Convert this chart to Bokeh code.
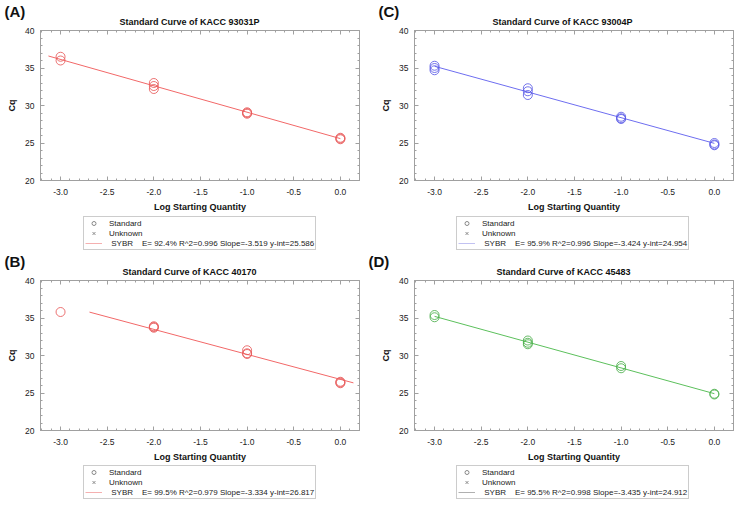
from bokeh.plotting import figure
from bokeh.models import (Range1d, LinearAxis, SingleIntervalTicker, PrintfTickFormatter,
                          Legend, LegendItem, Title)
from bokeh.layouts import row, column
from bokeh.embed import file_html
from bokeh.resources import INLINE

FONT = "Liberation Sans"
GRAY = "#a0a0a0"

# ---------------- data ----------------
panel_tags = ["(A)", "(B)", "(C)", "(D)"]
titles = ["Standard Curve of KACC 93031P", "Standard Curve of KACC 40170",
          "Standard Curve of KACC 93004P", "Standard Curve of KACC 45483"]

a_log = [-3, -3, -2, -2, -2, -1, -1, -1, 0, 0, 0]
a_cq = [36.5, 36.0, 33.0, 32.6, 32.2, 29.1, 29.0, 28.9, 25.7, 25.6, 25.5]
b_log = [-3, -2, -2, -2, -1, -1, -1, 0, 0, 0]
b_cq = [35.8, 33.9, 33.8, 33.7, 30.7, 30.3, 30.2, 26.5, 26.4, 26.3]
c_log = [-3, -3, -3, -2, -2, -2, -1, -1, -1, 0, 0, 0]
c_cq = [35.3, 35.0, 34.7, 32.3, 31.9, 31.4, 28.5, 28.3, 28.2, 25.0, 24.8, 24.7]
d_log = [-3, -3, -2, -2, -2, -1, -1, 0, 0]
d_cq = [35.4, 35.1, 32.0, 31.7, 31.5, 28.6, 28.3, 24.9, 24.8]

efficiency = ["92.4%", "99.5%", "95.9%", "95.5%"]
r_squared = ["0.996", "0.979", "0.996", "0.998"]
slopes = [-3.519, -3.334, -3.424, -3.435]
intercepts = [25.586, 26.817, 24.954, 24.912]
fit_start = [-3.13, -2.69, -3.0, -3.0]
fit_end = [0.0, 0.14, 0.0, 0.0]

point_colors = ["#e85a5a", "#e85a5a", "#5a5ae6", "#4caf4c"]
line_colors = ["#f26868", "#f26868", "#6e6ef0", "#5cc05c"]
legend_line_colors = ["#f5b0b0", "#f5b0b0", "#c2c2f2", "#b0b0b0"]

# width, height, border_left, border_top, border_bottom, border_right, legend height
geom = [(368, 214, 40, 30, 34, 9, 37),
        (368, 213, 40, 29, 34, 9, 36),
        (374, 214, 46, 30, 34, 9, 37),
        (374, 213, 46, 29, 34, 9, 36)]
title_offsets = [79, 82, 78, 82]
tag_offsets = [-36, -36, -36, -46]
legend_left = [43, 43, 42, 42]


def style_ticks(ax):
    ax.axis_line_color = GRAY
    ax.major_tick_line_color = GRAY
    ax.minor_tick_line_color = GRAY
    ax.major_tick_in = 4
    ax.major_tick_out = 0
    ax.minor_tick_in = 2
    ax.minor_tick_out = 0


def make_title(text, offset, size, standoff):
    t = Title(text=text, align="left", offset=offset, text_font=FONT,
              text_font_size=size, text_font_style="bold", text_color="#111111",
              standoff=0)
    try:
        t.standoff = standoff
    except Exception:
        pass
    return t


xs_all = [a_log, b_log, c_log, d_log]
ys_all = [a_cq, b_cq, c_cq, d_cq]


def make_panel(i):
    w, h, bl, bt, bb, br, lh = geom[i]
    p = figure(width=w, height=h, output_backend="svg", toolbar_location=None,
               x_range=Range1d(-3.215, 0.205), y_range=Range1d(20, 40),
               min_border_left=bl, min_border_top=bt, min_border_bottom=bb,
               min_border_right=br, x_axis_type=None, y_axis_type=None,
               title_location=None)
    p.grid.visible = False
    p.outline_line_color = GRAY
    p.background_fill_color = "white"
    p.border_fill_color = "white"

    xt = SingleIntervalTicker(interval=0.5, num_minor_ticks=5)
    yt = SingleIntervalTicker(interval=5, num_minor_ticks=5)

    xax = LinearAxis(ticker=xt, formatter=PrintfTickFormatter(format="%.1f"),
                     axis_label="Log Starting Quantity")
    yax = LinearAxis(ticker=yt, axis_label="Cq")
    for ax in (xax, yax):
        style_ticks(ax)
        ax.major_label_text_font = FONT
        ax.major_label_text_font_size = "8.5px"
        ax.major_label_text_color = "#222222"
        ax.axis_label_text_font = FONT
        ax.axis_label_text_font_size = "9px"
        ax.axis_label_text_font_style = "bold"
        ax.axis_label_text_color = "#111111"
    xax.major_label_standoff = 8
    xax.axis_label_standoff = 4
    yax.major_label_standoff = 6
    yax.axis_label_standoff = 5
    p.add_layout(xax, "below")
    p.add_layout(yax, "left")

    for side, tk in (("above", xt), ("right", yt)):
        ax = LinearAxis(ticker=tk)
        style_ticks(ax)
        ax.axis_line_color = None
        ax.major_label_text_alpha = 0
        ax.major_label_text_font_size = "1px"
        ax.major_label_standoff = 0
        p.add_layout(ax, side)

    p.add_layout(make_title(titles[i], title_offsets[i], "9px", 7), "above")
    p.add_layout(make_title(panel_tags[i], tag_offsets[i], "15px", -17), "above")

    # fit line
    fx = [fit_start[i], fit_end[i]]
    fy = [slopes[i] * v + intercepts[i] for v in fx]
    p.line(fx, fy, line_color=line_colors[i], line_width=1)

    # standards
    p.scatter(xs_all[i], ys_all[i], marker="circle", size=9, fill_color=None,
              line_color=point_colors[i], line_width=1, line_alpha=0.85)

    # legend strip below the plot
    q = figure(width=w, height=lh, output_backend="svg", toolbar_location=None,
               x_range=Range1d(0, 1), y_range=Range1d(0, 1),
               min_border=0, min_border_left=0, min_border_right=0,
               min_border_top=0, min_border_bottom=0,
               x_axis_type=None, y_axis_type=None, title_location=None)
    q.grid.visible = False
    q.outline_line_color = None
    q.background_fill_color = "white"
    q.border_fill_color = "white"
    r_std = q.scatter([-10], [-10], marker="circle", fill_color=None, line_color="#888888")
    r_unk = q.scatter([-10], [-10], marker="x", line_color="#888888")
    r_fit = q.line([-10, -9], [-10, -10], line_color=legend_line_colors[i], line_width=1)
    lab = ("\u00a0SYBR\u00a0\u00a0\u00a0\u00a0E= %s R^2=%s Slope=%.3f y-int=%.3f"
           % (efficiency[i], r_squared[i], slopes[i], intercepts[i]))
    legend = Legend(items=[LegendItem(label="Standard", renderers=[r_std]),
                           LegendItem(label="Unknown", renderers=[r_unk]),
                           LegendItem(label=lab, renderers=[r_fit])],
                    location=(legend_left[i], 1), orientation="vertical",
                    label_text_font=FONT, label_text_font_size="8px",
                    label_text_color="#222222",
                    glyph_width=17, glyph_height=10, label_height=10,
                    label_standoff=7, spacing=0, padding=1, margin=0,
                    border_line_color="#999999", border_line_width=1,
                    background_fill_color="white", background_fill_alpha=1.0)
    q.add_layout(legend, "center")
    return column(p, q)


pa, pb, pc, pd = [make_panel(i) for i in range(4)]
layout = column(row(pa, pc), row(pb, pd))

open("out.html", "w").write(file_html(layout, INLINE))
